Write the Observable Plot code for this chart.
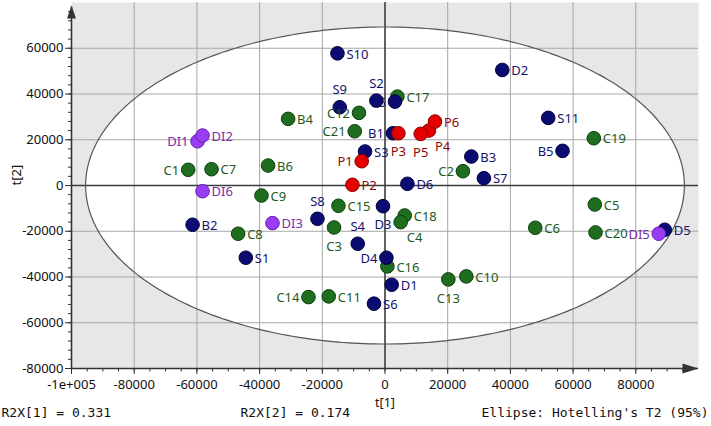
<!DOCTYPE html>
<html><head><meta charset="utf-8">
<script src="https://cdn.jsdelivr.net/npm/d3@7"></script>
<script src="https://cdn.jsdelivr.net/npm/@observablehq/plot@0.6"></script>
<style>body{margin:0;background:#fff}</style>
</head><body><div id="chart"></div>
<script>
// ---- data ----
const names = ["S10","S9","S2","C17","S5","C12","C21","B4","B1","P3","P4","P5","P6","S3","P1","P2","D6","C2","B3","S7","D2","S11","B5","C19","C5","C6","C20","D5","DI5","C10","C13","D1","S6","C11","C14","C16","D4","S4","C3","S8","C15","D3","C18","C4","DI3","C8","S1","C9","B2","DI6","C1","C7","DI1","DI2","B6"];
const t1 = [-15170,-14440,-2740,3950,3190,-8290,-9660,-30910,2550,4270,14020,11380,15940,-6370,-7430,-10390,7140,24860,27540,31550,37410,52070,56630,66610,66930,47930,67150,89240,87320,25940,20200,2140,-3510,-17940,-24410,760,450,-8700,-16250,-21540,-14850,-640,6280,5000,-35890,-46850,-44400,-39400,-61380,-58200,-62780,-55330,-59790,-58200,-37290];
const t2 = [57780,34200,37120,38870,36680,31750,23710,29130,22840,22840,24020,22570,27950,14850,10610,310,740,6250,12660,3190,50520,29560,15150,20660,-8300,-18480,-20520,-19350,-21090,-39740,-41050,-43370,-51660,-48470,-48780,-35370,-31570,-25460,-18340,-14560,-8870,-9040,-13100,-16030,-16460,-21090,-31570,-4370,-17160,-2490,6860,7120,19350,21840,8730];
const groups = ["b","b","b","g","b","g","g","g","b","r","r","r","r","b","r","r","b","g","b","b","b","b","b","g","g","g","g","b","p","g","g","b","b","g","g","g","b","b","g","b","g","b","g","g","p","g","b","g","b","p","g","g","p","p","g"];
// label placement (layout)
const labelSide = ["r","a","a","r","h","l","l","r","l","b","br","b","r","r","l","r","r","l","r","r","r","r","l","r","r","r","r","r","l","r","b","r","r","r","l","r","l","a","b","a","r","b","r","br","r","r","r","r","r","r","l","r","l","r","r"];

const xTicks = [-100000,-80000,-60000,-40000,-20000,0,20000,40000,60000,80000];
const xTickLabels = ["-1e+005","-80000","-60000","-40000","-20000","0","20000","40000","60000","80000"];
const yTicks = [-80000,-60000,-40000,-20000,0,20000,40000,60000];
const yTickLabels = ["-80000","-60000","-40000","-20000","0","20000","40000","60000"];
const xLabel = "t[1]";
const yLabel = "t[2]";
const footer = ["R2X[1] = 0.331","R2X[2] = 0.174","Ellipse: Hotelling's T2 (95%)"];
const ellipseA = 95500, ellipseB = 69300; // Hotelling's T2 ellipse semi-axes

// ---- styles / layout ----
const fillC = {b:"#0b0b72", g:"#1f6e1f", r:"#e50000", p:"#9b3cf5"};
const strokeC = {b:"#00003a", g:"#0c3f0c", r:"#8a0000", p:"#6a1fb0"};
const textC = {b:"#141470", g:"#1e5a1e", r:"#8b0a0a", p:"#7b2aa8"};
const off = {
  r:{dx:9,dy:1,a:"start"}, l:{dx:-9,dy:1,a:"end"}, h:{dx:-9,dy:1,a:"end"},
  a:{dx:0,dy:-17,a:"middle"}, b:{dx:0,dy:19,a:"middle"}, br:{dx:6,dy:16,a:"start"}
};
const footerDx = [-70, 169, 410];

const pts = names.map((n,i)=>({name:n, t1:t1[i], t2:t2[i], g:groups[i], side:labelSide[i]}));

const xDomain = [-100000, 100000], yDomain = [-80000, 80000];
const xGrid = xTicks.filter(d => d !== 0 && d !== xDomain[0]);
const yGrid = yTicks.filter(d => d !== 0 && d !== yDomain[0]);
const xMinor = d3.range(xDomain[0], xDomain[1], 5000);
const yMinor = d3.range(yDomain[0], yDomain[1], 4000);

const ellTop = d3.range(0, 181, 1).map(a => {
  const t = a*Math.PI/180;
  return {x: ellipseA*Math.cos(t), y1: -ellipseB*Math.sin(t), y2: ellipseB*Math.sin(t)};
});
const ellRing = d3.range(0, 361, 1).map(a => {
  const t = a*Math.PI/180;
  return {x: ellipseA*Math.cos(t), y: ellipseB*Math.sin(t)};
});

const tri = {draw(ctx, l, r){ ctx.moveTo(0,-l); ctx.lineTo(r,0); ctx.lineTo(-r,0); ctx.closePath(); }};

function labelMarks(filterFn){
  return Object.keys(off).map(side => Plot.text(pts.filter(d => d.side === side && filterFn(d)), {
    x:"t1", y:"t2", text:"name", dx:off[side].dx, dy:off[side].dy, textAnchor:off[side].a,
    fill: d => textC[d.g], fontSize: 13
  }));
}

const chart = Plot.plot({
  width: 711, height: 426,
  marginLeft: 71, marginRight: 13, marginTop: 2, marginBottom: 58,
  style: {fontFamily: "'Noto Sans', sans-serif", fontSize: "13px", color: "#111", background: "#fff"},
  x: {domain: xDomain},
  y: {domain: yDomain},
  color: {type: "identity"},
  marks: [
    Plot.frame({fill: "#e7e7e7", stroke: null}),
    Plot.areaY(ellTop, {x:"x", y1:"y1", y2:"y2", fill:"#fff", curve:"linear"}),
    Plot.ruleX(xGrid, {stroke:"#a6a6a6", strokeWidth:1}),
    Plot.ruleY(yGrid, {stroke:"#a6a6a6", strokeWidth:1}),
    Plot.ruleX([0], {stroke:"#3c3c3c", strokeWidth:1.6}),
    Plot.ruleY([0], {stroke:"#3c3c3c", strokeWidth:1.6}),
    Plot.line(ellRing, {x:"x", y:"y", stroke:"#555", strokeWidth:1.2, curve:"linear"}),
    // axes
    Plot.axisX(xMinor, {tickSize:3.5, tickFormat: () => "", stroke:"#333", label:null}),
    Plot.axisX(xTicks, {tickSize:6, tickPadding:5, tickFormat: d => xTickLabels[xTicks.indexOf(d)], stroke:"#333", fill:"#111", fontSize:13, label:null}),
    Plot.axisY(yMinor, {tickSize:3, tickFormat: () => "", stroke:"#333", label:null}),
    Plot.axisY(yTicks, {tickSize:6, tickPadding:2, tickFormat: d => yTickLabels[yTicks.indexOf(d)], stroke:"#333", fill:"#111", fontSize:13, label:null}),
    Plot.ruleX([xDomain[0]], {y1: yDomain[0], y2: 78000, stroke:"#333", strokeWidth:1.6}),
    Plot.ruleY([yDomain[0]], {stroke:"#333", strokeWidth:1.6}),
    Plot.vector([0], {frameAnchor:"top-left", dy:3, length:13, r:4.5, anchor:"end", shape:tri, fill:"#333", stroke:"none"}),
    Plot.vector([0], {frameAnchor:"bottom-right", rotate:90, length:16, r:5, anchor:"end", shape:tri, fill:"#333", stroke:"none"}),
    // hidden labels (drawn under points)
    ...labelMarks(d => d.side === "h"),
    Plot.dot(pts, {x:"t1", y:"t2", r:6.8, fill: d => fillC[d.g], stroke: d => strokeC[d.g], strokeWidth:1}),
    ...labelMarks(d => d.side !== "h"),
    // axis titles & footer
    Plot.text([xLabel], {frameAnchor:"bottom", dy:38, fontSize:12.5, fill:"#111"}),
    Plot.text([yLabel], {frameAnchor:"left", dx:-55, rotate:-90, fontSize:13, fill:"#111"}),
    ...footer.map((s, i) => Plot.text([s], {frameAnchor:"bottom-left", dx: footerDx[i], dy:48,
      textAnchor:"start", fontFamily:"'DejaVu Sans Mono', monospace", fontSize:13, fill:"#111"}))
  ]
});
document.getElementById("chart").append(chart);
</script>
</body></html>
